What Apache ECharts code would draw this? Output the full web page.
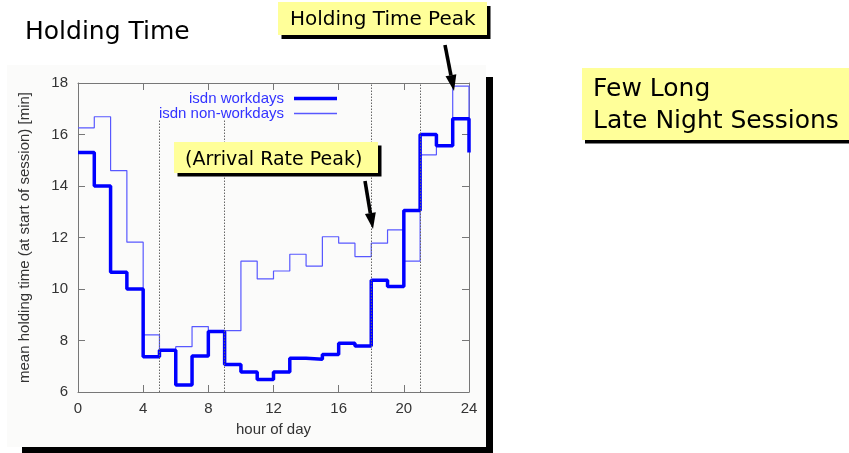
<!DOCTYPE html>
<html>
<head>
<meta charset="utf-8">
<script src="https://cdn.jsdelivr.net/npm/echarts@6/dist/echarts.min.js"></script>
<style>html,body{margin:0;padding:0;background:#fff}#c{width:849px;height:453px}</style>
</head>
<body>
<div id="c"></div>
<script>
// ---- data ----
var hours = [0,1,2,3,4,5,6,7,8,9,10,11,12,13,14,15,16,17,18,19,20,21,22,23,24];
var workdays = [15.3,14.0,10.65,10.0,7.37,7.62,6.27,7.4,8.35,7.07,6.78,6.49,6.78,7.31,7.27,7.46,7.89,7.79,10.34,10.1,13.05,16.0,15.56,16.61,15.3];
var nonWorkdays = [16.26,16.69,14.6,11.82,8.22,7.63,7.76,8.54,8.38,8.38,11.08,10.39,10.7,11.35,10.89,12.03,11.78,11.26,11.78,12.3,11.08,15.21,15.57,17.88,16.26];
var seriesNames = ['isdn workdays','isdn non-workdays'];
var refHours = [5,9,18,21];
var refTops = [16.6,16.6,18,18];
var xTicks = [0,4,8,12,16,20,24];
var yTicks = [6,8,10,12,14,16,18];

var chart = echarts.init(document.getElementById('c'));
function pairs(xs, ys){ return xs.map(function(x,i){ return [x, ys[i]]; }); }

var FONT = 'Liberation Sans';
var AFONT = 'DejaVu Sans';
var axisCol = '#777';
var thickCol = '#0000ff', thinCol = '#5858ff';

function arrow(x1,y1,x2,y2){
  var dx=x2-x1, dy=y2-y1, L=Math.sqrt(dx*dx+dy*dy), ux=dx/L, uy=dy/L, px=-uy, py=ux;
  var hl=16, hw=5.5, sw=1.8;
  var bx=x2-ux*hl, by=y2-uy*hl;
  return [
    {type:'polygon', z:100, shape:{points:[[x1+px*sw,y1+py*sw],[bx+px*sw,by+py*sw],[bx-px*sw,by-py*sw],[x1-px*sw,y1-py*sw]]}, style:{fill:'#000'}},
    {type:'polygon', z:100, shape:{points:[[x2,y2],[bx+px*hw,by+py*hw],[bx-px*hw,by-py*hw]]}, style:{fill:'#000'}}
  ];
}
function box(x,y,w,h,sx,sy){
  return [
    {type:'rect', z:98, shape:{x:x+sx,y:y+sy,width:w,height:h}, style:{fill:'#000'}},
    {type:'rect', z:99, shape:{x:x,y:y,width:w,height:h}, style:{fill:'#ffff99'}}
  ];
}
function txt(x,y,s,size){
  return {type:'text', z:101, x:x, y:y, style:{text:s, fill:'#000', font: size+'px "'+AFONT+'"', textVerticalAlign:'middle', verticalAlign:'middle'}};
}

var graphics = [
  {type:'rect', z:-10, shape:{x:22,y:77,width:471,height:376}, style:{fill:'#000'}},
  {type:'rect', z:-9, shape:{x:7,y:65,width:479,height:382}, style:{fill:'#fbfbfa'}}
];
graphics = graphics.concat(box(278,2,209,33,3.5,4));
graphics = graphics.concat(box(174,142,204,31,3.5,3.5));
graphics = graphics.concat(box(582,68,268,72,3,3.5));
graphics.push(txt(25,32,'Holding Time',25));
graphics.push(txt(290,19.5,'Holding Time Peak',20));
graphics.push(txt(185,160,'(Arrival Rate Peak)',19));
graphics.push(txt(593,89,'Few Long',25));
graphics.push(txt(593,121,'Late Night Sessions',25));
graphics = graphics.concat(arrow(445,45,454,91));
graphics = graphics.concat(arrow(365,181,373,229));

var refLines = refHours.map(function(h,i){ return [{coord:[h,6]},{coord:[h,refTops[i]]}]; });

var labelStyle = {fontFamily:FONT, fontSize:15, color:'#333'};
var legendText = {fontFamily:FONT, fontSize:15, color:'#3333ff', padding:[0,5,0,0]};

chart.setOption({
  animation:false,
  backgroundColor:'#fff',
  grid:{left:78, right:380, top:83, bottom:61},
  legend:[
    {data:[{name:seriesNames[0], icon:'rect', itemStyle:{color:thickCol}}], right:512, top:91, align:'right', orient:'vertical', itemWidth:43, itemHeight:3.5, padding:0, textStyle:legendText},
    {data:[{name:seriesNames[1], icon:'rect', itemStyle:{color:thinCol}}], right:512, top:106, align:'right', orient:'vertical', itemWidth:43, itemHeight:1.5, padding:0, textStyle:legendText}
  ],
  xAxis:[
    {type:'value', min:0, max:24, interval:4, position:'bottom',
     name:'hour of day', nameLocation:'middle', nameGap:30, nameTextStyle:labelStyle,
     axisLine:{onZero:false, lineStyle:{color:axisCol, width:1}},
     axisTick:{inside:true, length:7, lineStyle:{color:axisCol}},
     axisLabel:{margin:9, fontFamily:FONT, fontSize:15, color:'#333', formatter:function(v){return xTicks.indexOf(v)>=0?String(v):'';}},
     splitLine:{show:false}},
    {type:'value', min:0, max:24, interval:4, position:'top',
     axisLine:{onZero:false, lineStyle:{color:axisCol, width:1}},
     axisTick:{inside:true, length:7, lineStyle:{color:axisCol}},
     axisLabel:{show:false}, splitLine:{show:false}}
  ],
  yAxis:[
    {type:'value', min:6, max:18, interval:2, position:'left',
     name:'mean holding time (at start of session) [min]', nameLocation:'middle', nameGap:46, nameTextStyle:labelStyle,
     axisLine:{show:true, onZero:false, lineStyle:{color:axisCol, width:1}},
     axisTick:{show:true, inside:true, length:7, lineStyle:{color:axisCol}},
     axisLabel:{margin:10, fontFamily:FONT, fontSize:15, color:'#333', formatter:function(v){return yTicks.indexOf(v)>=0?String(v):'';}},
     splitLine:{show:false}},
    {type:'value', min:6, max:18, interval:2, position:'right',
     axisLine:{show:true, onZero:false, lineStyle:{color:axisCol, width:1}},
     axisTick:{show:true, inside:true, length:7, lineStyle:{color:axisCol}},
     axisLabel:{show:false}, splitLine:{show:false}}
  ],
  series:[
    {name:seriesNames[1], type:'line', step:'end', symbol:'none', z:3,
     data:pairs(hours, nonWorkdays),
     lineStyle:{color:thinCol, width:1.2}, itemStyle:{color:thinCol},
     markLine:{silent:true, symbol:'none', label:{show:false},
       lineStyle:{color:'#666', type:[1.5,1.5], width:1}, data:refLines}},
    {name:seriesNames[0], type:'line', step:'end', symbol:'none', z:4,
     data:pairs(hours, workdays),
     lineStyle:{color:thickCol, width:3.5}, itemStyle:{color:thickCol}}
  ],
  graphic:{elements:graphics}
});
</script>
</body>
</html>
